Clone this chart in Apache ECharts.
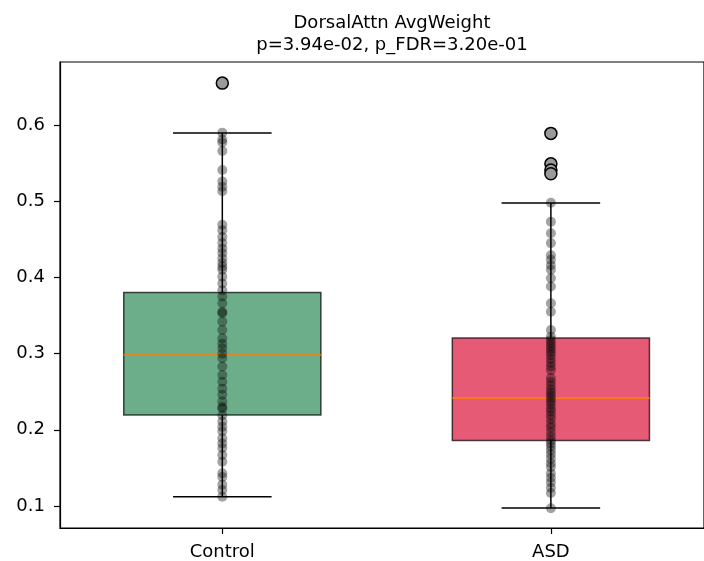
<!DOCTYPE html>
<html><head><meta charset="utf-8">
<script src="https://cdn.jsdelivr.net/npm/echarts@6/dist/echarts.min.js"></script>
<style>html,body{margin:0;padding:0;background:#fff}#c{width:704px;height:561px}</style>
</head><body><div id="c"></div>
<script>
const categories = ['Control', 'ASD'];
const controlValues = [0.590, 0.581, 0.577, 0.566, 0.541, 0.526, 0.519, 0.513, 0.469, 0.462, 0.453, 0.445, 0.438, 0.432, 0.425, 0.419, 0.414, 0.410, 0.401, 0.392, 0.383, 0.375, 0.366, 0.355, 0.353, 0.342, 0.331, 0.320, 0.313, 0.307, 0.300, 0.294, 0.283, 0.272, 0.263, 0.254, 0.246, 0.237, 0.230, 0.228, 0.219, 0.211, 0.204, 0.198, 0.189, 0.182, 0.176, 0.167, 0.158, 0.143, 0.138, 0.128, 0.121, 0.112, 0.655];
const asdValues = [0.589, 0.549, 0.541, 0.536, 0.498, 0.473, 0.458, 0.445, 0.429, 0.423, 0.416, 0.410, 0.399, 0.388, 0.366, 0.355, 0.331, 0.322, 0.318, 0.314, 0.310, 0.306, 0.302, 0.298, 0.293, 0.288, 0.283, 0.278, 0.268, 0.263, 0.258, 0.253, 0.249, 0.245, 0.241, 0.237, 0.233, 0.228, 0.224, 0.219, 0.214, 0.208, 0.203, 0.197, 0.191, 0.186, 0.182, 0.178, 0.173, 0.168, 0.162, 0.156, 0.151, 0.143, 0.137, 0.131, 0.124, 0.117, 0.097];
// box stats: [whiskerLow, q1, median, q3, whiskerHigh]
const controlBox = [0.112, 0.2194, 0.2982, 0.3802, 0.5895];
const asdBox = [0.0974, 0.186, 0.2417, 0.3205, 0.4976];
const controlOutliers = [0.655];
const asdOutliers = [0.589, 0.549, 0.541, 0.536];
const yTicks = [0.1, 0.2, 0.3, 0.4, 0.5, 0.6];
const boxColors = ['rgba(46,139,87,0.7)', 'rgba(220,20,60,0.7)'];

const allValues = [controlValues, asdValues];
const boxes = [controlBox, asdBox];
const outliers = [controlOutliers, asdOutliers];

const stripData = [];
allValues.forEach((arr, i) => arr.forEach(v => stripData.push([i + 1, v])));
const outlierData = [];
outliers.forEach((arr, i) => arr.forEach(v => outlierData.push([i + 1, v])));
const boxData = boxes.map((b, i) => [i + 1].concat(b));

const chart = echarts.init(document.getElementById('c'), null, {renderer: 'canvas'});
const FONT = 'DejaVu Sans';
chart.setOption({
  animation: false,
  title: {
    text: 'DorsalAttn AvgWeight\np=3.94e-02, p_FDR=3.20e-01',
    left: 387, top: 7, textAlign: 'center',
    textStyle: {fontFamily: FONT, fontSize: 18, fontWeight: 'normal', color: '#000', lineHeight: 22}
  },
  grid: {left: 60, right: 0, top: 62, bottom: 33, show: true, borderColor: '#000', borderWidth: 1.2, backgroundColor: 'transparent'},
  xAxis: {
    type: 'value', min: 0.506, max: 2.466,
    splitLine: {show: false},
    axisLine: {show: true, onZero: false, lineStyle: {color: '#000', width: 1.2}},
    axisTick: {show: true, length: 6, lineStyle: {color: '#000', width: 1.2}, customValues: [1, 2]},
    axisLabel: {customValues: [1, 2], fontFamily: FONT, fontSize: 18, color: '#000', margin: 15,
      formatter: v => categories[Math.round(v) - 1] || ''}
  },
  yAxis: {
    type: 'value', min: 0.0711, max: 0.6827,
    splitLine: {show: false},
    axisLine: {show: true, onZero: false, lineStyle: {color: '#000', width: 1.2}},
    axisTick: {show: true, length: 6, lineStyle: {color: '#000', width: 1.2}, customValues: yTicks},
    axisLabel: {customValues: yTicks, fontFamily: FONT, fontSize: 18, color: '#000', margin: 15,
      formatter: v => v.toFixed(1)}
  },
  series: [
    {
      type: 'custom',
      data: boxData,
      z: 2,
      renderItem: (params, api) => {
        const x = api.value(0);
        const lo = api.value(1), q1 = api.value(2), md = api.value(3), q3 = api.value(4), hi = api.value(5);
        const halfW = 0.3, capW = 0.15;
        const pQ1L = api.coord([x - halfW, q1]);
        const pQ3R = api.coord([x + halfW, q3]);
        const pLo = api.coord([x, lo]), pHi = api.coord([x, hi]);
        const pQ1 = api.coord([x, q1]), pQ3 = api.coord([x, q3]);
        const capL = api.coord([x - capW, lo]), capR = api.coord([x + capW, lo]);
        const capL2 = api.coord([x - capW, hi]), capR2 = api.coord([x + capW, hi]);
        const mL = api.coord([x - halfW, md]), mR = api.coord([x + halfW, md]);
        const idx = params.dataIndex;
        const lw = {stroke: '#000', lineWidth: 1.5};
        return {type: 'group', children: [
          {type: 'line', shape: {x1: pQ1[0], y1: pQ1[1], x2: pLo[0], y2: pLo[1]}, style: lw},
          {type: 'line', shape: {x1: pQ3[0], y1: pQ3[1], x2: pHi[0], y2: pHi[1]}, style: lw},
          {type: 'line', shape: {x1: capL[0], y1: capL[1], x2: capR[0], y2: capR[1]}, style: lw},
          {type: 'line', shape: {x1: capL2[0], y1: capL2[1], x2: capR2[0], y2: capR2[1]}, style: lw},
          {type: 'rect', shape: {x: pQ1L[0], y: pQ3R[1], width: pQ3R[0] - pQ1L[0], height: pQ1L[1] - pQ3R[1]},
            style: {fill: boxColors[idx], stroke: 'rgba(0,0,0,0.7)', lineWidth: 1.5}},
          {type: 'line', shape: {x1: mL[0], y1: mL[1], x2: mR[0], y2: mR[1]}, style: {stroke: 'rgba(255,127,14,0.8)', lineWidth: 1.8}}
        ]};
      }
    },
    {
      type: 'scatter', data: stripData, z: 3, symbol: 'circle', symbolSize: 10,
      itemStyle: {color: 'rgba(0,0,0,0.45)', borderWidth: 0}
    },
    {
      type: 'scatter', data: outlierData, z: 4, symbol: 'circle', symbolSize: 12,
      itemStyle: {color: '#9a9a9a', borderColor: '#000', borderWidth: 1.5, opacity: 1}
    }
  ]
});
</script></body></html>
